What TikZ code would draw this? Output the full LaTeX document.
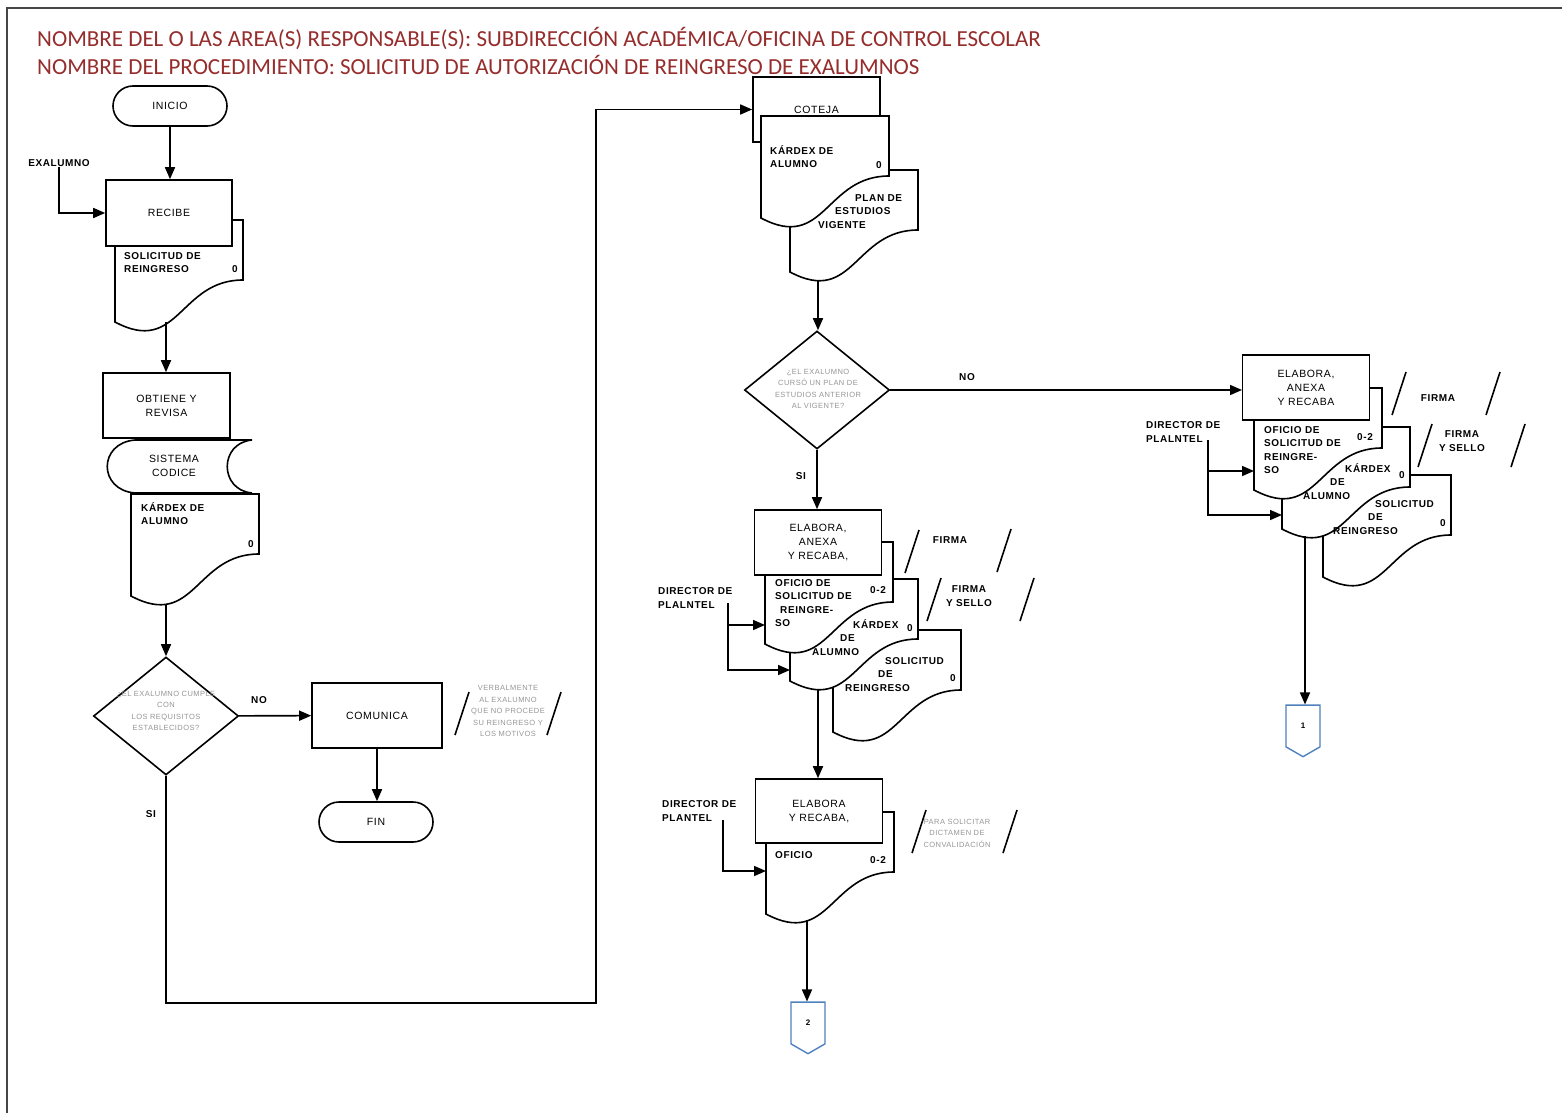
\documentclass[tikz,border=0pt]{standalone}
\usepackage{fontspec}
\setmainfont{Liberation Sans}[LetterSpace=6]
\newfontfamily\headfont{Carlito}
\usepackage{tikz}
\usetikzlibrary{arrows.meta,positioning,shapes.geometric,shapes.symbols}
\definecolor{wine}{RGB}{150,45,45}
\definecolor{framegray}{RGB}{70,70,70}
\definecolor{notegray}{RGB}{150,150,150}
\definecolor{linkblue}{RGB}{79,129,189}

% document symbol, top left corner at (#1,#2)
\newcommand{\docsym}[2]{\draw[docline] (#1,#2) -- (#1+128,#2) -- (#1+128,#2+60)
  .. controls (#1+64,#2+60) and (#1+64,#2+136) .. (#1,#2+102) -- cycle;}

\begin{document}
\begin{tikzpicture}[x=1pt,y=-1pt,
  head/.style={anchor=base west,inner sep=0,text=wine,font=\headfont\fontsize{23}{26}\selectfont},
  box/.style={rectangle,draw=black,fill=white,line width=1.6pt,minimum width=127pt,minimum height=65pt,align=center,inner sep=2pt,font=\fontsize{10.5}{14}\selectfont},
  term/.style={rectangle,rounded corners=20pt,draw=black,fill=white,line width=1.6pt,minimum width=114pt,minimum height=40pt,font=\fontsize{10.5}{14}\selectfont},
  decision/.style={diamond,draw=black,fill=white,line width=1.6pt,minimum width=145pt,minimum height=118pt,inner sep=0pt},
  docline/.style={draw=black,fill=white,line width=1.6pt},
  doctext/.style={anchor=north west,inner sep=0pt,align=left,font=\bfseries\fontsize{10}{13.5}\selectfont},
  num/.style={inner sep=0pt,font=\bfseries\fontsize{10}{12}\selectfont},
  note/.style={align=center,inner sep=0pt,text=notegray,font=\fontsize{7.5}{11.5}\selectfont},
  lbl/.style={inner sep=0pt,align=left,font=\bfseries\fontsize{10}{14.5}\selectfont},
  slash/.style={line width=1.6pt},
  arrow/.style={-{Triangle[length=12pt,width=10pt]},line width=1.6pt},
  offpage/.style={signal,signal to=south,signal pointer angle=120,draw=linkblue,fill=white,line width=1.4pt,minimum width=34pt,minimum height=43pt,inner sep=0pt,font=\bfseries\fontsize{8}{9}\selectfont}]
\useasboundingbox (0,0) rectangle (1562,1113);
\draw[line width=1.4pt,draw=framegray] (7,1113) -- (7,8) -- (1562,8);

% titles
\node[head] (area) at (37,47) {NOMBRE DEL O LAS AREA(S) RESPONSABLE(S): SUBDIRECCIÓN ACADÉMICA/OFICINA DE CONTROL ESCOLAR};
\node[head] (proc) at (37,75) {NOMBRE DEL PROCEDIMIENTO: SOLICITUD DE AUTORIZACIÓN DE REINGRESO DE EXALUMNOS};

% left column
\node[term] (inicio) at (170,106) {INICIO};
\docsym{115}{220}
\node[doctext] (soltx) at (124,252) {SOLICITUD DE\\REINGRESO};
\node[num] (sol0) at (235,269) {0};
\node[box,minimum width=126pt,minimum height=66pt] (recibe) at (169,213) {RECIBE};
\node[lbl] (exal) at (59,163) {EXALUMNO};
\coordinate (solb) at (166,322);
\node[box] (obtiene) at (166.5,405.5) {OBTIENE Y\\REVISA};
\draw[docline] (135,440) -- (252,440) .. controls (219,443) and (219,490) .. (252,493)
  -- (135,493) .. controls (98,490) and (98,443) .. (135,440) -- cycle;
\node[inner sep=0pt,align=center,font=\fontsize{10.5}{14}\selectfont] (codice) at (174,466) {SISTEMA\\CODICE};
\docsym{131}{494}
\node[doctext] (kartx) at (141,502) {KÁRDEX DE\\ALUMNO};
\node[num] (kar0) at (251,544) {0};
\coordinate (karb) at (166,604);
\node[decision] (dec1) at (166,716) {};
\node[note] (dec1tx) at (166,711) {¿EL EXALUMNO CUMPLE\\CON\\LOS REQUISITOS\\ESTABLECIDOS?};
\node[box,minimum width=130pt] (comunica) at (377,715.5) {COMUNICA};
\node[note] (verbal) at (508,711) {VERBALMENTE\\AL EXALUMNO\\QUE NO PROCEDE\\SU REINGRESO Y\\LOS MOTIVOS};
\node[term] (fin) at (376,822) {FIN};
\node[lbl] (no1) at (259,700) {NO};
\node[lbl] (si1) at (151,814) {SI};
\coordinate (low) at (596,1003);

\draw[arrow] (inicio) -- (inicio |- recibe.north);
\draw[arrow] (exal) |- (recibe);
\draw[arrow] (solb) -- (solb |- obtiene.north);
\draw[arrow] (karb) -- (dec1.north);
\draw[arrow] (dec1) -- (comunica);
\draw[arrow] (comunica) -- (comunica |- fin.north);

% middle column
\node[box] (coteja) at (816.5,109.5) {COTEJA};
\docsym{790}{170}
\docsym{761}{116}
\node[doctext] (plantx) at (818,194) {\hspace*{37pt}PLAN DE\\\hspace*{17pt}ESTUDIOS\\VIGENTE};
\node[doctext] (kar2tx) at (770,145) {KÁRDEX DE\\ALUMNO};
\node[num] (kar20) at (879,165) {0};
\coordinate (planb) at (818,280);
\node[decision] (dec2) at (817,390) {};
\node[note] (dec2tx) at (818,389) {¿EL EXALUMNO\\CURSÓ UN PLAN DE\\ESTUDIOS ANTERIOR\\AL VIGENTE?};
\node[lbl] (no2) at (967,377) {NO};
\node[lbl] (si2) at (801,476) {SI};

\draw[arrow] (dec1.south) |- (low) |- (coteja.west);
\draw[arrow] (planb) -- (planb |- dec2.north);
\draw[arrow] (dec2.east) -- (dec2.east -| 1242,0);

% middle group
\docsym{833}{630}
\docsym{790}{579}
\docsym{765}{542}
\node[doctext] (sol3tx) at (845,657) {\hspace*{40pt}SOLICITUD\\\hspace*{33pt}DE\\REINGRESO};
\node[num] (sol30) at (953,678) {0};
\node[doctext] (kar3tx) at (812,619) {\hspace*{41pt}KÁRDEX\\\hspace*{28pt}DE\\ALUMNO};
\node[num] (kar30) at (910,628) {0};
\node[doctext] (of3tx) at (775,579) {OFICIO DE\\SOLICITUD DE\\\hspace*{5pt}REINGRE-\\SO};
\node[num] (of30) at (878,590) {0-2};
\node[box] (elab) at (818,542.5) {ELABORA,\\ANEXA\\Y RECABA,};
\node[lbl,align=center] (firma1) at (950,540) {FIRMA};
\node[lbl,align=center] (sello1) at (969,596) {FIRMA\\Y SELLO};
\node[lbl,anchor=north west] (dir1) at (658,587) {DIRECTOR DE\\PLALNTEL};
\coordinate (dir1a) at (728,603);
\coordinate (of3in) at (765,625);
\coordinate (kar3in) at (790,670);
\coordinate (kar3b) at (818,689);

\draw[arrow] (dec2.south) -- (dec2.south |- elab.north);
\draw[arrow] (dir1a) |- (of3in);
\draw[arrow] (dir1a) |- (kar3in);

% bottom group
\docsym{766}{812}
\node[doctext] (of4tx) at (775,851) {OFICIO};
\node[num] (of40) at (878,860) {0-2};
\node[box,minimum height=64pt] (elab2) at (819,811) {ELABORA\\Y RECABA,};
\node[lbl,anchor=north west] (dir2) at (662,800) {DIRECTOR DE\\PLANTEL};
\coordinate (dir2a) at (723,820);
\coordinate (of4in) at (766,871);
\coordinate (of4b) at (807,920);
\node[note] (para) at (957,833) {PARA SOLICITAR\\DICTAMEN DE\\CONVALIDACIÓN};
\node[offpage] (pg2) at (808,1023) {2};

\draw[arrow] (kar3b) -- (kar3b |- elab2.north);
\draw[arrow] (dir2a) |- (of4in);
\draw[arrow] (of4b) -- (of4b |- pg2.north);

% right group
\docsym{1323}{475}
\docsym{1282}{427}
\docsym{1254}{388}
\node[doctext] (sol5tx) at (1333,500) {\hspace*{42pt}SOLICITUD\\\hspace*{35pt}DE\\REINGRESO};
\node[num] (sol50) at (1443,523) {0};
\node[doctext] (kar5tx) at (1303,463) {\hspace*{42pt}KÁRDEX\\\hspace*{27pt}DE\\ALUMNO};
\node[num] (kar50) at (1402,475) {0};
\node[doctext] (of5tx) at (1264,426) {OFICIO DE\\SOLICITUD DE\\REINGRE-\\SO};
\node[num] (of50) at (1365,437) {0-2};
\node[box] (elab3) at (1306,387.5) {ELABORA,\\ANEXA\\Y RECABA};
\node[lbl,align=center] (firma2) at (1438,398) {FIRMA};
\node[lbl,align=center] (sello2) at (1462,441) {FIRMA\\Y SELLO};
\node[lbl,anchor=north west] (dir3) at (1146,421) {DIRECTOR DE\\PLALNTEL};
\coordinate (dir3a) at (1208,440);
\coordinate (of5in) at (1254,471);
\coordinate (kar5in) at (1282,515);
\coordinate (kar5b) at (1305,536);
\node[offpage] (pg1) at (1303,726) {1};

\draw[arrow] (dir3a) |- (of5in);
\draw[arrow] (dir3a) |- (kar5in);
\draw[arrow] (kar5b) -- (kar5b |- pg1.north);

% slanted brackets round the notes
\foreach \sx/\sy in {455/735,547/735,905/573,997/572,927/621,1020/621,912/853,1003/853,1392/415,1486/415,1418/467,1511/467}
  \draw[slash] (\sx,\sy) -- ++(14,-43);
\end{tikzpicture}
\end{document}
